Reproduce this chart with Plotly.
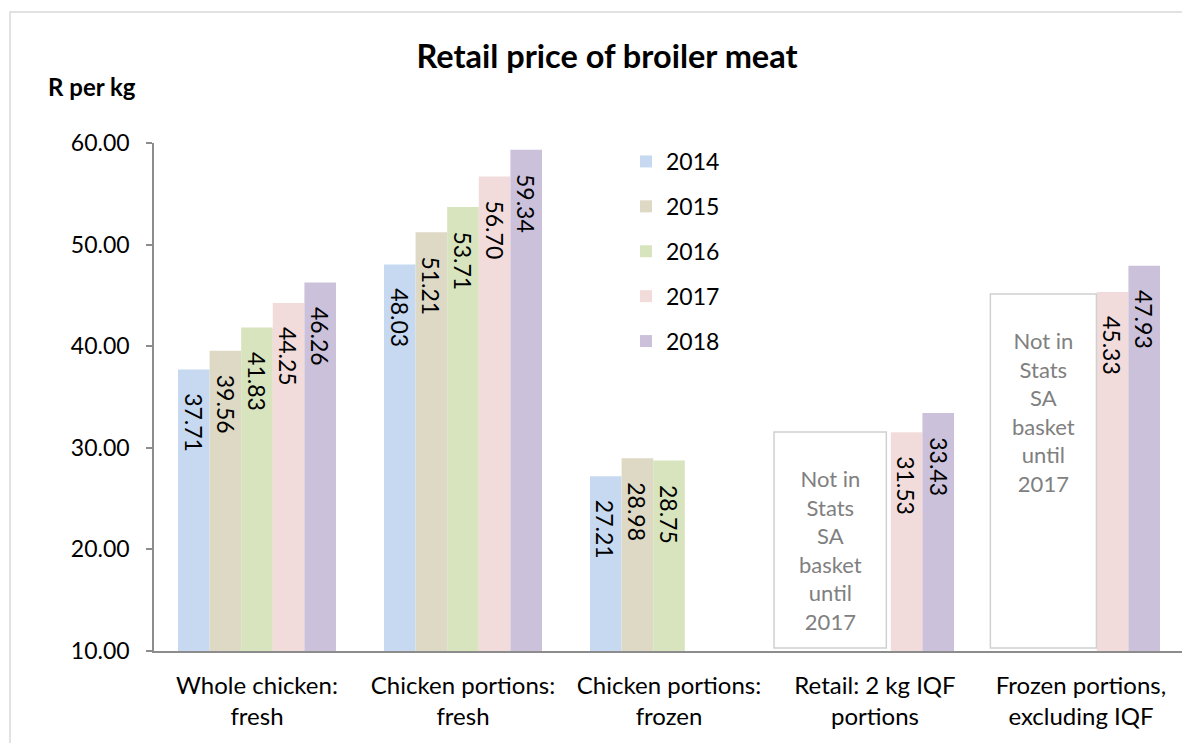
import plotly.graph_objects as go

categories = ["Whole chicken:<br>fresh", "Chicken portions:<br>fresh", "Chicken portions:<br>frozen",
              "Retail: 2 kg IQF<br>portions", "Frozen portions,<br>excluding IQF"]
years = ["2014", "2015", "2016", "2017", "2018"]
values = {
    "2014": [37.71, 48.03, 27.21, None, None],
    "2015": [39.56, 51.21, 28.98, None, None],
    "2016": [41.83, 53.71, 28.75, None, None],
    "2017": [44.25, 56.70, None, 31.53, 45.33],
    "2018": [46.26, 59.34, None, 33.43, 47.93],
}
colors = {"2014": "#C6D9F1", "2015": "#DDD9C4", "2016": "#D7E4BD", "2017": "#F2DCDB", "2018": "#CCC1DA"}
y_ticks = [10, 20, 30, 40, 50, 60]
note_text = "Not in<br>Stats<br>SA<br>basket<br>until<br>2017"

FONT = "Lato, Open Sans, sans-serif"

# figure pixel geometry (page has 8px body margin)
W, H = 1182, 735
L, R, T, B = 146, 6, 135, 92
PW, PH = W - L - R, H - T - B
BARGAP = 0.233
nser = len(years)
bw = (1 - BARGAP) / nser


def px_x(px):
    return (px - L) / PW


def px_y(py):
    return (H - B - py) / PH


fig = go.Figure()
for j, yr in enumerate(years):
    vals = values[yr]
    fig.add_trace(go.Bar(
        x=categories, y=vals, name=yr,
        marker=dict(color=colors[yr], line=dict(width=0)),
        legendgroup=yr,
    ))
    for i, v in enumerate(vals):
        if v is None:
            continue
        fig.add_annotation(x=i + (j - (nser - 1) / 2) * bw, y=v, xref="x", yref="y",
                           text=f"{v:.2f}", textangle=90, showarrow=False,
                           xanchor="center", yanchor="top", yshift=-22,
                           font=dict(family=FONT, size=23, color="#000000"))

# "Not in Stats SA basket" text boxes (positions relative to category index)
boxes = [
    dict(cat=3, x0=-0.49, x1=0.055, top=31.56, ty=19.96),
    dict(cat=4, x0=-0.44, x1=0.075, top=45.14, ty=33.56),
]
for b in boxes:
    fig.add_shape(type="rect", xref="x", yref="y",
                  x0=b["cat"] + b["x0"], x1=b["cat"] + b["x1"], y0=10.3, y1=b["top"],
                  line=dict(color="#D0D0D0", width=1.5), fillcolor="rgba(0,0,0,0)")
    fig.add_annotation(x=b["cat"] + (b["x0"] + b["x1"]) / 2, y=b["ty"], xref="x", yref="y",
                       text=note_text, showarrow=False,
                       font=dict(family=FONT, size=22, color="#808080"))

# outer chart border
fig.add_shape(type="rect", xref="paper", yref="paper",
              x0=px_x(2), x1=px_x(1200), y0=px_y(760), y1=px_y(4),
              line=dict(color="#D9D9D9", width=1.5))

fig.add_annotation(x=px_x(84), y=px_y(79), xref="paper", yref="paper", text="<b>R per kg</b>",
                   xanchor="center", yanchor="middle",
                   showarrow=False, font=dict(family=FONT, size=24, color="#000"))

fig.update_layout(
    width=W, height=H,
    margin=dict(l=L, r=R, t=T, b=B),
    paper_bgcolor="white", plot_bgcolor="white",
    barmode="group", bargap=BARGAP, bargroupgap=0,
    title=dict(text="<b>Retail price of broiler meat</b>", x=599 / W, xanchor="center",
               y=1 - 49 / H, yanchor="middle", yref="container",
               font=dict(family=FONT, size=32.5, color="#000")),
    font=dict(family=FONT, size=22, color="#000"),
    showlegend=True,
    legend=dict(x=px_x(618), y=px_y(132), xanchor="left", yanchor="top",
                font=dict(family=FONT, size=23, color="#000"),
                tracegroupgap=12, itemwidth=30, bgcolor="rgba(0,0,0,0)"),
    xaxis=dict(showline=True, linecolor="#8C8C8C", linewidth=1.5, ticks="",
               showgrid=False, ticklabelstandoff=12,
               tickfont=dict(family=FONT, size=24, color="#000")),
    yaxis=dict(range=[10, 60], tickvals=y_ticks, ticktext=[f"{t:.2f}" for t in y_ticks],
               showline=True, linecolor="#8C8C8C", linewidth=1.5, ticks="outside",
               ticklen=6, tickcolor="#8C8C8C", tickwidth=1.5, showgrid=False, zeroline=False,
               ticklabelstandoff=12, tickfont=dict(family=FONT, size=23, color="#000")),
)

fig.write_html("out.html")
